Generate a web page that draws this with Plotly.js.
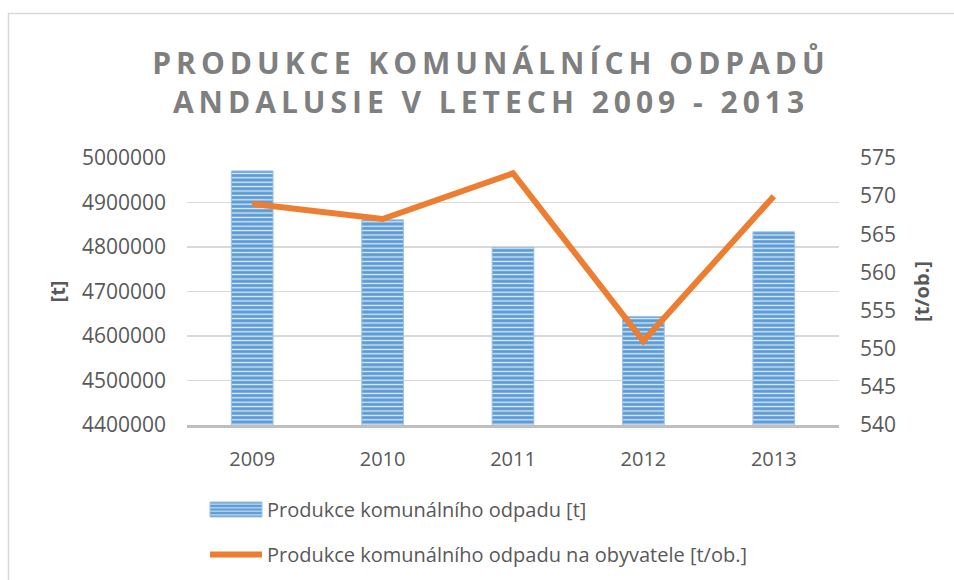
<!DOCTYPE html>
<html>
<head>
<meta charset="utf-8">
<script src="https://cdn.plot.ly/plotly-3.0.1.min.js"></script>
<style>
  html, body { margin: 0; padding: 0; background: #fff; }
  #chart { width: 954px; height: 580px; }
  .gtitle { letter-spacing: 5px; }
</style>
</head>
<body>
<div id="chart"></div>
<script>
// ---- data ----
const years = ["2009", "2010", "2011", "2012", "2013"];
const produkce = [4971000, 4861000, 4799000, 4644000, 4834000];
const naObyvatele = [569, 567, 573, 551, 570];
const leftTicks = [4400000, 4500000, 4600000, 4700000, 4800000, 4900000, 5000000];
const rightTicks = [540, 545, 550, 555, 560, 565, 570, 575];

const W = 954, H = 580;
const M = { l: 187, r: 115, t: 158, b: 155, autoexpand: false };
const pw = W - M.l - M.r, ph = H - M.t - M.b;
const px = x => (x - M.l) / pw;
const py = y => (H - M.b - y) / ph;

const font = "'Open Sans', 'DejaVu Sans', sans-serif";
const textGray = "#595959";

const traces = [
  {
    type: "bar",
    name: "Produkce komunálního odpadu [t]",
    x: years,
    y: produkce,
    yaxis: "y",
    width: 0.32,
    legendgroup: "a",
    marker: {
      color: "#5b9bd5",
      line: { color: "#9dc3e6", width: 1 },
      pattern: { shape: "-", fgcolor: "rgba(255,255,255,0.8)", bgcolor: "#5b9bd5", size: 4.4, solidity: 0.3 }
    },
    hoverinfo: "x+y"
  },
  {
    type: "scatter",
    mode: "lines",
    name: "Produkce komunálního odpadu na obyvatele [t/ob.]",
    x: years,
    y: naObyvatele,
    yaxis: "y2",
    legendgroup: "b",
    line: { color: "#ed7d31", width: 6 },
    hoverinfo: "x+y"
  }
];

const layout = {
  width: W, height: H,
  margin: M,
  paper_bgcolor: "#ffffff",
  plot_bgcolor: "#ffffff",
  font: { family: font, color: textGray, size: 20 },
  title: {
    text: "PRODUKCE KOMUNÁLNÍCH ODPADŮ<br>ANDALUSIE V LETECH 2009 - 2013",
    font: { family: font, size: 30, color: "#7f7f7f", weight: "bold" },
    x: 491 / W, xref: "container", xanchor: "center",
    y: 1 - 74 / H, yref: "container", yanchor: "middle"
  },
  showlegend: true,
  legend: {
    orientation: "v",
    x: px(205), xanchor: "left",
    y: py(490), yanchor: "top",
    font: { family: font, size: 20, color: textGray },
    traceorder: "grouped",
    tracegroupgap: 16,
    itemwidth: 52,
    bgcolor: "rgba(0,0,0,0)"
  },
  xaxis: {
    type: "category",
    showgrid: false,
    showline: true,
    linecolor: "#bfbfbf",
    linewidth: 3,
    ticks: "",
    tickfont: { family: font, size: 20, color: textGray },
    ticklabelstandoff: 14,
    zeroline: false
  },
  yaxis: {
    range: [4400000, 5000000],
    tickvals: leftTicks,
    ticktext: leftTicks.map(String),
    showgrid: true,
    gridcolor: "#d9d9d9",
    gridwidth: 1.3,
    zeroline: false,
    showline: false,
    ticks: "",
    ticklabelstandoff: 20,
    tickfont: { family: font, size: 21, color: textGray },
    title: { text: "<b>[t]</b>", font: { family: font, size: 20, color: textGray }, standoff: 10 }
  },
  yaxis2: {
    overlaying: "y",
    side: "right",
    range: [540, 575],
    tickvals: rightTicks,
    showgrid: false,
    zeroline: false,
    showline: false,
    ticks: "",
    ticklabelstandoff: 20,
    tickfont: { family: font, size: 21, color: textGray },
    title: { text: "<b>[t/ob.]</b>", font: { family: font, size: 20, color: textGray }, standoff: 19 }
  },
  shapes: [
    {
      type: "rect", xref: "paper", yref: "paper", layer: "below",
      x0: px(8.5), x1: px(1100), y0: py(700), y1: py(13.5),
      line: { color: "#d9d9d9", width: 1.5 }, fillcolor: "rgba(0,0,0,0)"
    }
  ]
};

Plotly.newPlot("chart", traces, layout, { displayModeBar: false, staticPlot: true }).then(gd => {
  // widen the bar legend swatch to match the line swatch (Excel-style wide rectangle)
  const lineSym = gd.querySelector(".legend .traces .legendlines path");
  const barSym = gd.querySelector(".legend .traces .legendpoints path");
  if (lineSym && barSym) {
    const lr = lineSym.getBoundingClientRect();
    const br = barSym.getBoundingClientRect();
    const cx = br.left + br.width / 2;
    const x0 = lr.left - cx;
    const w = lr.width;
    barSym.setAttribute("d", `M${x0},-7.5h${w}v15h${-w}Z`);
  }
});
</script>
</body>
</html>
